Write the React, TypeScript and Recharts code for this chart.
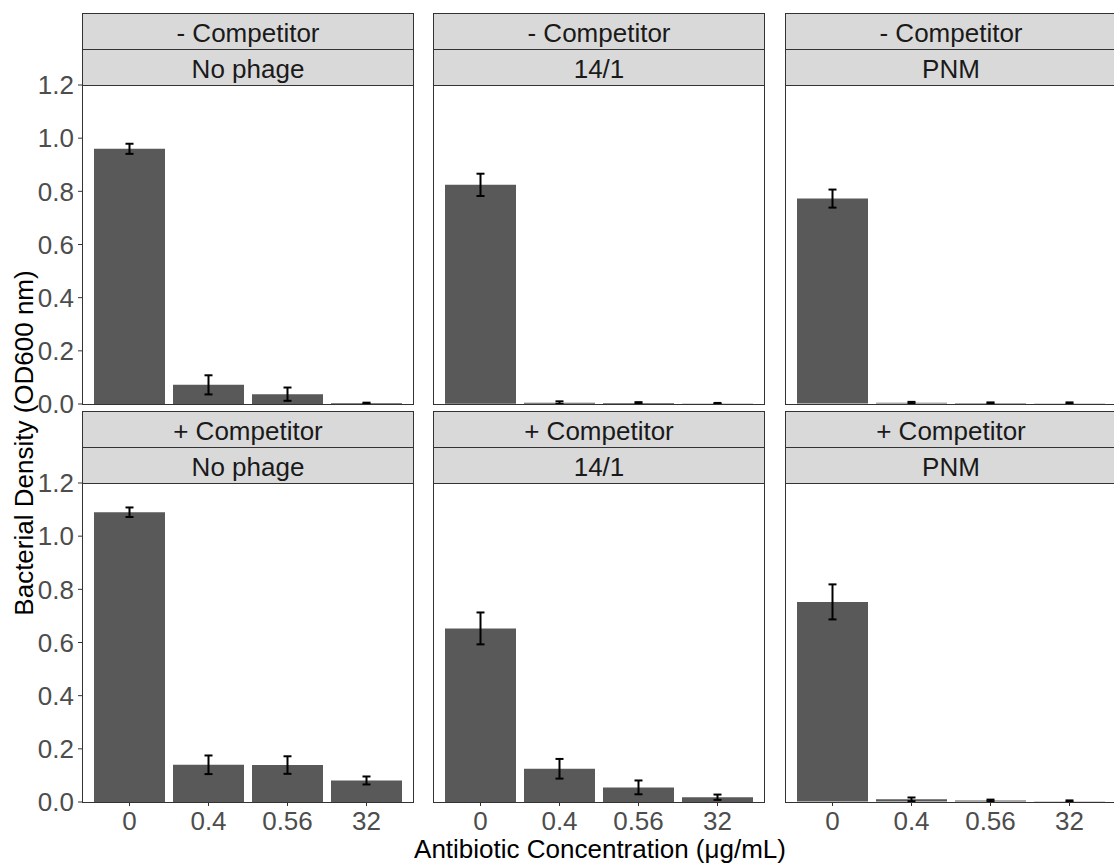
import React from 'react';
import { BarChart, Bar, XAxis, YAxis, ErrorBar } from 'recharts';

// Antibiotic concentrations (µg/mL) on the x axis of every panel
const concentrations = ['0', '0.4', '0.56', '32'];
// Facet labels: rows = competitor, columns = phage
const competitorLabels = ['- Competitor', '+ Competitor'];
const phageLabels = ['No phage', '14/1', 'PNM'];
const yTicks = [0, 0.2, 0.4, 0.6, 0.8, 1.0, 1.2];

// Mean OD600 and error per concentration, one pair of arrays per panel
const noCompNoPhageMean = [0.96, 0.072, 0.037, 0.003];
const noCompNoPhageErr = [0.019, 0.036, 0.025, 0.002];
const noComp141Mean = [0.824, 0.004, 0.003, 0.001];
const noComp141Err = [0.042, 0.005, 0.003, 0.002];
const noCompPnmMean = [0.772, 0.003, 0.002, 0.001];
const noCompPnmErr = [0.034, 0.003, 0.002, 0.003];
const compNoPhageMean = [1.09, 0.14, 0.139, 0.081];
const compNoPhageErr = [0.018, 0.035, 0.033, 0.015];
const comp141Mean = [0.653, 0.125, 0.055, 0.018];
const comp141Err = [0.06, 0.037, 0.026, 0.01];
const compPnmMean = [0.752, 0.008, 0.004, 0.001];
const compPnmErr = [0.066, 0.007, 0.003, 0.003];

const panelMeans = [
  [noCompNoPhageMean, noComp141Mean, noCompPnmMean],
  [compNoPhageMean, comp141Mean, compPnmMean],
];
const panelErrs = [
  [noCompNoPhageErr, noComp141Err, noCompPnmErr],
  [compNoPhageErr, comp141Err, compPnmErr],
];

const FONT = '"Liberation Sans", Arial, Helvetica, sans-serif';
const PANEL_W = 332;
const PLOT_H = 319;
const AXIS_W = 82;
const TOP_PAD = 14;
const BOTTOM_PAD = 14;
const X_AXIS_H = 46;
const STRIP_H = 36;
const colLefts = [82, 433, 785];
const rowPlotTops = [85, 483];

const stripStyle: React.CSSProperties = {
  position: 'absolute',
  boxSizing: 'border-box',
  background: '#D9D9D9',
  border: '1px solid #333333',
  color: '#1A1A1A',
  fontSize: 26,
  textAlign: 'center',
  whiteSpace: 'nowrap',
};

function Panel({ row, col }: { row: number; col: number }) {
  const means = panelMeans[row][col];
  const errs = panelErrs[row][col];
  const data = concentrations.map((c, i) => ({ conc: c, od: means[i], err: errs[i] }));
  const showY = col === 0;
  const showX = row === 1;
  const left = colLefts[col];
  const plotTop = rowPlotTops[row];
  const chartLeft = showY ? left - AXIS_W : left;
  const chartW = PANEL_W + (showY ? AXIS_W : 0);
  const bottomPad = showX ? 0 : BOTTOM_PAD;
  const chartH = TOP_PAD + PLOT_H + (showX ? X_AXIS_H : 0) + bottomPad;

  return (
    <>
      <div
        style={{
          ...stripStyle,
          left,
          top: plotTop - 2 * STRIP_H,
          width: PANEL_W,
          height: STRIP_H + 1,
          lineHeight: `${STRIP_H + 3}px`,
        }}
      >
        {competitorLabels[row]}
      </div>
      <div
        style={{
          ...stripStyle,
          left,
          top: plotTop - STRIP_H,
          width: PANEL_W,
          height: STRIP_H + 1,
          lineHeight: `${STRIP_H + 3}px`,
        }}
      >
        {phageLabels[col]}
      </div>
      <div style={{ position: 'absolute', left: chartLeft, top: plotTop - TOP_PAD }}>
        <BarChart
          width={chartW}
          height={chartH}
          data={data}
          margin={{ top: TOP_PAD, right: 0, bottom: bottomPad, left: 0 }}
        >
          <XAxis
            dataKey="conc"
            type="category"
            hide={!showX}
            height={X_AXIS_H}
            padding={{ left: 8, right: 8 }}
            axisLine={false}
            tickLine={{ stroke: '#333333' }}
            tickSize={4}
            tickMargin={6}
            interval={0}
            tick={{ fill: '#4D4D4D', fontSize: 26 }}
          />
          <YAxis
            type="number"
            domain={[0, 1.2]}
            ticks={yTicks}
            interval={0}
            hide={!showY}
            width={AXIS_W}
            axisLine={false}
            tickLine={{ stroke: '#333333' }}
            tickSize={4}
            tickMargin={4}
            tickFormatter={(v: number) => v.toFixed(1)}
            tick={{ fill: '#4D4D4D', fontSize: 26 }}
          />
          <Bar dataKey="od" fill="#595959" barSize={71} isAnimationActive={false}>
            <ErrorBar dataKey="err" direction="y" width={4} stroke="#000000" strokeWidth={2} />
          </Bar>
        </BarChart>
      </div>
      <div
        style={{
          position: 'absolute',
          left,
          top: plotTop,
          width: PANEL_W,
          height: PLOT_H + 1,
          boxSizing: 'border-box',
          border: '1px solid #333333',
          pointerEvents: 'none',
        }}
      />
    </>
  );
}

export default function App() {
  const panels = [];
  for (let r = 0; r < 2; r++) {
    for (let c = 0; c < 3; c++) {
      panels.push(<Panel key={`${r}-${c}`} row={r} col={c} />);
    }
  }
  return (
    <div
      style={{
        position: 'absolute',
        left: 0,
        top: 0,
        width: 1114,
        height: 863,
        overflow: 'hidden',
        background: '#FFFFFF',
        fontFamily: FONT,
      }}
    >
      {panels}
      <div
        style={{
          position: 'absolute',
          left: 24 - 350,
          top: 443 - 15,
          width: 700,
          height: 30,
          lineHeight: '30px',
          fontSize: 26,
          color: '#000000',
          textAlign: 'center',
          whiteSpace: 'nowrap',
          transform: 'rotate(-90deg)',
        }}
      >
        Bacterial Density (OD600 nm)
      </div>
      <div
        style={{
          position: 'absolute',
          left: 0,
          top: 836,
          width: 1200,
          height: 26,
          lineHeight: '26px',
          fontSize: 26,
          color: '#000000',
          whiteSpace: 'nowrap',
        }}
      >
        <span style={{ position: 'absolute', left: 600, transform: 'translateX(-50%)' }}>
          Antibiotic Concentration (μg/mL)
        </span>
      </div>
    </div>
  );
}
